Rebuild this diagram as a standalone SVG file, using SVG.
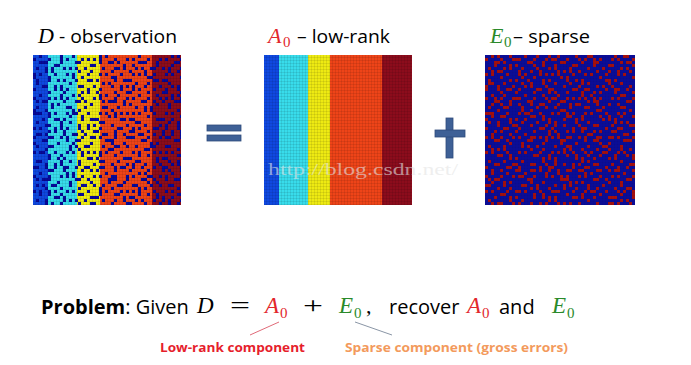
<svg xmlns="http://www.w3.org/2000/svg" xmlns:xlink="http://www.w3.org/1999/xlink" width="691" height="365" viewBox="0 0 691 365">
  <style>
    .sans { font-family: "Open Sans", "Liberation Sans", sans-serif; fill: #000; }
    .math { font-family: "Liberation Serif", "DejaVu Serif", serif; font-style: italic; }
    .sub { font-family: "Liberation Serif", "DejaVu Serif", serif; font-style: normal; }
    .red { fill: #E2262B; }
    .green { fill: #2A8A2A; }
    .op { fill: #3E6096; stroke: #2F4C7C; stroke-width: 0.8; }
    .lbl { font-family: "Open Sans", "Liberation Sans", sans-serif; font-weight: bold; font-size: 13px; }
  </style>
  <defs>
    <path id="cellsA" d="M6,0h3v3h-3z M0,3h3v3h-3z M15,3h3v3h-3z M27,3h3v3h-3z M9,6h6v3h-6z M24,9h3v3h-3z M3,12h3v3h-3z M18,12h3v3h-3z M12,15h3v3h-3z M0,18h3v3h-3z M6,18h3v3h-3z M21,18h3v3h-3z M15,21h3v3h-3z M24,24h3v3h-3z M30,24h3v3h-3z M3,27h3v3h-3z M12,30h3v3h-3z M27,30h3v3h-3z M0,33h3v3h-3z M21,33h3v3h-3z M15,36h3v3h-3z M30,36h3v3h-3z"/>
    <path id="cellsB" d="M12,0h3v3h-3z M3,3h3v3h-3z M24,3h3v3h-3z M18,6h3v3h-3z M0,9h3v3h-3z M9,9h3v3h-3z M27,9h3v3h-3z M15,12h3v3h-3z M30,15h3v3h-3z M36,18h3v3h-3z M0,21h3v3h-3z M12,21h3v3h-3z M33,24h3v3h-3z M6,27h3v3h-3z M18,27h3v3h-3z M24,30h3v3h-3z"/>
    <pattern id="nA-navy" patternUnits="userSpaceOnUse" x="33" y="55" width="33" height="39"><use xlink:href="#cellsA" href="#cellsA" fill="#07099A"/></pattern>
    <pattern id="nB-navy" patternUnits="userSpaceOnUse" x="36" y="58" width="39" height="33"><use xlink:href="#cellsB" href="#cellsB" fill="#07099A"/></pattern>
    <pattern id="nA-red" patternUnits="userSpaceOnUse" x="485" y="55" width="33" height="39"><use xlink:href="#cellsA" href="#cellsA" fill="#A3100E"/></pattern>
    <pattern id="nB-red" patternUnits="userSpaceOnUse" x="491" y="61" width="39" height="33"><use xlink:href="#cellsB" href="#cellsB" fill="#A3100E"/></pattern>
    <pattern id="grid" patternUnits="userSpaceOnUse" x="0" y="1" width="3" height="3"><path d="M3,0V3H0" fill="none" stroke="#000" stroke-opacity="0.28" stroke-width="0.6"/></pattern>
    <pattern id="gridE" patternUnits="userSpaceOnUse" x="0" y="1" width="3" height="3"><path d="M3,0V3H0" fill="none" stroke="#000" stroke-opacity="0.12" stroke-width="0.6"/></pattern>
  </defs>

  <rect width="691" height="365" fill="#fff"/>

  <g id="matrix-D">
    <text x="38" y="43" class="math" font-size="22">D</text>
    <text x="59" y="43" class="sans" font-size="18" textLength="118" lengthAdjust="spacingAndGlyphs">- observation</text>
    <rect x="33" y="55" width="15" height="150" fill="#0F48E0"/>
    <rect x="48" y="55" width="29" height="150" fill="#38DCEB"/>
    <rect x="77" y="55" width="23" height="150" fill="#EEEA12"/>
    <rect x="100" y="55" width="52" height="150" fill="#EE4418"/>
    <rect x="152" y="55" width="29" height="150" fill="#8C0C1C"/>
    <rect x="33" y="55" width="148" height="150" fill="url(#nA-navy)"/>
    <rect x="33" y="55" width="148" height="150" fill="url(#nB-navy)"/>
    <rect x="33" y="55" width="148" height="150" fill="url(#grid)"/>
  </g>

  <g id="op-equals">
    <rect x="207" y="125" width="34" height="6" class="op"/>
    <rect x="207" y="135" width="34" height="6" class="op"/>
  </g>

  <g id="matrix-A">
    <text x="268" y="43" class="math red" font-size="22">A</text>
    <text x="283" y="47" class="sub red" font-size="15">0</text>
    <text x="297" y="43" class="sans" font-size="18" textLength="93" lengthAdjust="spacingAndGlyphs">– low-rank</text>
    <rect x="264" y="55" width="15" height="150" fill="#0F48E0"/>
    <rect x="279" y="55" width="29" height="150" fill="#38DCEB"/>
    <rect x="308" y="55" width="22" height="150" fill="#EEEA12"/>
    <rect x="330" y="55" width="52" height="150" fill="#EE4418"/>
    <rect x="382" y="55" width="30" height="150" fill="#8C0C1C"/>
    <rect x="264" y="55" width="148" height="150" fill="url(#grid)"/>
  </g>

  <g id="op-plus">
    <rect x="446" y="118" width="7" height="40" class="op"/>
    <rect x="435" y="130" width="30" height="7" class="op"/>
  </g>

  <g id="matrix-E">
    <text x="490" y="43" class="math green" font-size="22">E</text>
    <text x="504" y="47" class="sub green" font-size="15">0</text>
    <text x="513" y="43" class="sans" font-size="18" textLength="77" lengthAdjust="spacingAndGlyphs">– sparse</text>
    <rect x="485" y="55" width="150" height="150" fill="#0B0D97"/>
    <rect x="485" y="55" width="150" height="150" fill="url(#nA-red)"/>
    <rect x="485" y="55" width="150" height="150" fill="url(#nB-red)"/>
    <rect x="485" y="55" width="150" height="150" fill="url(#gridE)"/>
  </g>

  <text id="watermark" x="268" y="175" font-family="Liberation Serif, serif" font-size="17" fill="#e4e4e4" fill-opacity="0.6" textLength="190" lengthAdjust="spacingAndGlyphs">http://blog.csdn.net/</text>

  <g id="equation">
    <text x="41" y="314" class="sans" font-size="20"><tspan font-weight="bold">Problem</tspan>: Given</text>
    <text x="197" y="313" class="math" font-size="23">D</text>
    <text x="230" y="313" class="sub" font-size="24" textLength="20" lengthAdjust="spacingAndGlyphs">=</text>
    <text x="265" y="313" class="math red" font-size="23">A</text>
    <text x="280" y="318" class="sub red" font-size="15">0</text>
    <text x="303" y="313" class="sub" font-size="24" textLength="20" lengthAdjust="spacingAndGlyphs">+</text>
    <text x="339" y="313" class="math green" font-size="23">E</text>
    <text x="354" y="318" class="sub green" font-size="15">0</text>
    <text x="366" y="313" class="sub" font-size="22">,</text>
    <text x="389" y="314" class="sans" font-size="20">recover</text>
    <text x="467" y="313" class="math red" font-size="23">A</text>
    <text x="482" y="318" class="sub red" font-size="15">0</text>
    <text x="499" y="314" class="sans" font-size="20">and</text>
    <text x="552" y="313" class="math green" font-size="23">E</text>
    <text x="567" y="318" class="sub green" font-size="15">0</text>
  </g>

  <g id="connectors">
    <line x1="279" y1="322" x2="250" y2="335" stroke="#E06A78" stroke-width="1"/>
    <line x1="355" y1="322" x2="392" y2="335" stroke="#8A96A6" stroke-width="1"/>
  </g>

  <g id="label-lowrank">
    <text x="160" y="352" class="lbl" fill="#E61E2C" textLength="145" lengthAdjust="spacingAndGlyphs">Low-rank component</text>
  </g>
  <g id="label-sparse">
    <text x="345" y="352" class="lbl" fill="#F39A5C" textLength="223" lengthAdjust="spacingAndGlyphs">Sparse component (gross errors)</text>
  </g>
</svg>
